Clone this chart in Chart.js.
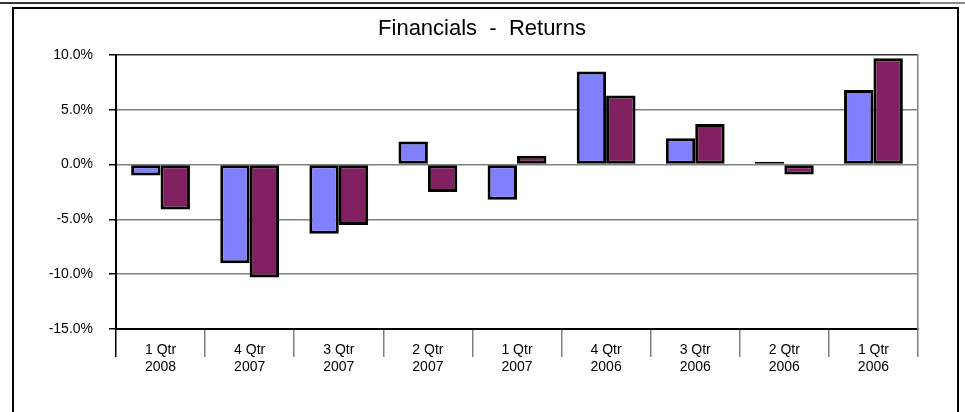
<!DOCTYPE html>
<html>
<head>
<meta charset="utf-8">
<script src="https://cdn.jsdelivr.net/npm/chart.js@4.4.1/dist/chart.umd.min.js"></script>
<style>
  html, body { margin: 0; padding: 0; background: #fff; }
  #wrap { position: relative; width: 965px; height: 412px; overflow: hidden; }
  #topline { position: absolute; left: 0; top: 2px; width: 920px; height: 2px; background: #333; }
  #topline2 { position: absolute; left: 920px; top: 2px; width: 45px; height: 2px; background: #888; }
  #frame { position: absolute; left: 12px; top: 7px; width: 943px; height: 420px;
           border: 2px solid #000; border-bottom: none; }
  #c { position: absolute; left: 0; top: 0; }
</style>
</head>
<body>
<div id="wrap">
  <div id="topline"></div>
  <div id="topline2"></div>
  <div id="frame"></div>
  <canvas id="c" width="965" height="412"></canvas>
</div>
<script>
const quarters = ['1 Qtr', '4 Qtr', '3 Qtr', '2 Qtr', '1 Qtr', '4 Qtr', '3 Qtr', '2 Qtr', '1 Qtr'];
const years = ['2008', '2007', '2007', '2007', '2007', '2006', '2006', '2006', '2006'];
const series1 = [-1.0, -9.0, -6.3, 2.1, -3.2, 8.5, 2.4, 0.25, 6.8];
const series2 = [-4.1, -10.3, -5.5, -2.5, 0.8, 6.3, 3.7, -0.9, 9.7];
const yTicks = [-15, -10, -5, 0, 5, 10];
const titleText = 'Financials  -  Returns';

const labels = quarters.map((q, i) => [q, years[i]]);
const FONT = "'Liberation Sans', Arial, sans-serif";

new Chart(document.getElementById('c'), {
  type: 'bar',
  data: {
    labels: labels,
    datasets: [
      { label: 'Series 1', data: series1, backgroundColor: '#8080FF', borderColor: '#000', borderWidth: 3, borderSkipped: false },
      { label: 'Series 2', data: series2, backgroundColor: '#802060', borderColor: '#000', borderWidth: 3, borderSkipped: false }
    ]
  },
  options: {
    responsive: false,
    animation: false,
    layout: { padding: { left: 40, right: 41, top: 7, bottom: 0 } },
    datasets: { bar: { categoryPercentage: 0.66, barPercentage: 1.0 } },
    plugins: {
      legend: { display: false },
      tooltip: { enabled: false },
      title: {
        display: true,
        text: titleText,
        color: '#000',
        font: { family: FONT, size: 22, weight: 'normal', lineHeight: 1.2 },
        padding: { top: 9, bottom: 12.6 }
      }
    },
    scales: {
      x: {
        afterFit: s => { s.height = 83; },
        grid: {
          offset: true,
          drawOnChartArea: false,
          tickColor: c => (c.tick && c.index === 0 ? '#000' : '#808080'),
          tickLength: 28,
          lineWidth: 1.5
        },
        border: { display: true, color: '#000', width: 2 },
        ticks: {
          color: '#000',
          font: { family: FONT, size: 14, lineHeight: 1.2 },
          padding: -15,
          maxRotation: 0,
          autoSkip: false
        }
      },
      y: {
        min: yTicks[0],
        max: yTicks[yTicks.length - 1],
        afterFit: s => { s.width = 76; },
        afterBuildTicks: s => { s.ticks = yTicks.map(v => ({ value: v })); },
        grid: {
          color: c => (c.tick && c.tick.value === 10 ? '#333' : '#808080'),
          tickColor: '#000',
          tickLength: 7,
          lineWidth: 1.5
        },
        border: { display: true, color: '#000', width: 2 },
        ticks: {
          color: '#000',
          font: { family: FONT, size: 14 },
          padding: 16,
          callback: v => v.toFixed(1) + '%'
        }
      },
      y2: {
        position: 'right',
        display: true,
        afterFit: s => { s.width = 6; },
        grid: { display: false },
        ticks: { display: false },
        border: { display: true, color: '#808080', width: 1.5 }
      }
    }
  }
});
</script>
</body>
</html>
